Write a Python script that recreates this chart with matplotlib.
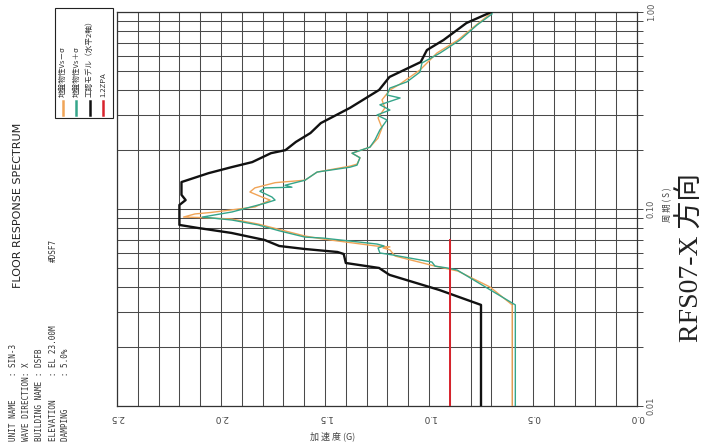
import numpy as np
import matplotlib.pyplot as plt
from matplotlib.patches import Rectangle
from matplotlib.lines import Line2D
from matplotlib.ticker import LogLocator, NullFormatter

plt.rcParams['font.family'] = ['DejaVu Sans', 'Noto Sans CJK JP']

# 工認モデル(水平2軸) : acceleration (G) vs period (s)
black_acc = [0.75, 0.75, 0.95, 1.19, 1.24, 1.40, 1.41, 1.44, 1.60, 1.72, 1.79, 1.95, 2.11, 2.20,
             2.20, 2.17, 2.19, 2.19, 2.06, 1.95, 1.85, 1.76, 1.69, 1.64, 1.57, 1.52, 1.38,
             1.24, 1.19, 1.04, 1.01, 0.93, 0.82, 0.70]
black_per = [0.010, 0.0326, 0.0388, 0.0463, 0.0502, 0.0532, 0.0591, 0.0605, 0.0627, 0.0649, 0.0696,
             0.0756, 0.0801, 0.0830, 0.1048, 0.111, 0.118, 0.137, 0.152, 0.163, 0.173, 0.192,
             0.199, 0.219, 0.243, 0.273, 0.326, 0.402, 0.468, 0.557, 0.641, 0.721, 0.879, 1.00]

# 地盤物性Vs+σ
green_acc = [0.585, 0.585, 0.865, 0.913, 0.971, 0.986, 1.173, 1.236, 1.245, 1.216, 1.250, 1.510,
             1.596, 1.716, 1.822, 1.947, 2.090, 1.947, 1.788, 1.740, 1.755, 1.813, 1.788, 1.659,
             1.692, 1.596, 1.538, 1.380, 1.346, 1.332, 1.370, 1.284, 1.260, 1.236, 1.202, 1.250,
             1.188, 1.236, 1.139, 1.202, 1.188, 1.106, 1.043, 1.034, 0.947, 0.851, 0.769, 0.697,
             0.697]
green_per = [0.010, 0.0326, 0.0490, 0.0502, 0.0513, 0.0538, 0.0584, 0.0598, 0.0634, 0.0649, 0.0664,
             0.0712, 0.0720, 0.0773, 0.0830, 0.0879, 0.0910, 0.0966, 0.107, 0.111, 0.115, 0.123,
             0.128, 0.129, 0.132, 0.140, 0.154, 0.163, 0.167, 0.182, 0.192, 0.206, 0.224, 0.252,
             0.283, 0.300, 0.318, 0.338, 0.366, 0.379, 0.411, 0.442, 0.496, 0.551, 0.619, 0.721,
             0.859, 0.977, 1.00]

# 地盤物性Vs-σ
orange_acc = [0.600, 0.600, 0.707, 0.861, 0.971, 1.163, 1.188, 1.221, 1.188, 1.255, 1.510, 1.596,
              1.822, 1.947, 2.100, 2.180, 2.125, 2.050, 1.837, 1.764, 1.803, 1.861, 1.837, 1.740,
              1.707, 1.596, 1.538, 1.380, 1.346, 1.332, 1.370, 1.284, 1.245, 1.226, 1.245, 1.212,
              1.226, 1.188, 1.139, 1.043, 0.962, 0.861, 0.779, 0.707, 0.707]
orange_per = [0.010, 0.0326, 0.0402, 0.0484, 0.0513, 0.0577, 0.0620, 0.0634, 0.0642, 0.0649, 0.0704,
              0.0729, 0.0839, 0.0889, 0.0905, 0.0910, 0.0944, 0.0960, 0.1024, 0.111, 0.115, 0.122,
              0.128, 0.136, 0.137, 0.140, 0.154, 0.165, 0.169, 0.182, 0.192, 0.206, 0.229, 0.258,
              0.290, 0.326, 0.358, 0.402, 0.431, 0.508, 0.619, 0.721, 0.849, 0.977, 1.00]

# 1.2ZPA
red_acc = [0.90, 0.90]
red_per = [0.010, 0.0697]

acc_ticks = [2.5, 2.0, 1.5, 1.0, 0.5, 0.0]
acc_labels = ['2.5', '2.0', '1.5', '1.0', '0.5', '0.0']
per_ticks = [0.01, 0.1, 1.0]
per_labels = ['0.01', '0.10', '1.00']

legend_labels = ['地盤物性Vs－σ', '地盤物性Vs＋σ', '工認モデル（水平2軸）', '1.2ZPA']
legend_colors = ['#f0a457', '#35a58a', '#111111', '#d8232c']

info_lines = ['UNIT NAME     : SIN-3',
              'WAVE DIRECTION: X',
              'BUILDING NAME : DSFB',
              'ELEVATION     : EL 23.00M',
              'DAMPING       : 5.0%']

W, H = 705, 445


def fx(px):
    return px / W


def fy(py):
    return 1 - py / H


fig = plt.figure(figsize=(7.05, 4.45), dpi=100)
fig.patch.set_facecolor('white')
ax = fig.add_axes([fx(117), fy(406), 520 / W, 394 / H])

ax.set_xlim(2.5, 0.0)
ax.set_yscale('log')
ax.set_ylim(0.01, 1.0)

ax.set_xticks(acc_ticks)
ax.set_xticklabels(acc_labels, rotation=180, fontsize=6.5, color='#444444')
ax.set_xticks(np.arange(0, 2.51, 0.1), minor=True)
ax.set_yticks(per_ticks)
ax.set_yticklabels(per_labels, rotation=90, fontsize=6, color='#555555', va='center')
ax.yaxis.set_minor_locator(LogLocator(base=10, subs=np.arange(2, 10)))
ax.yaxis.set_minor_formatter(NullFormatter())
ax.yaxis.tick_right()
ax.tick_params(axis='x', which='both', length=0, pad=5)
ax.tick_params(axis='y', which='both', direction='out', length=4, width=0.7,
               color='#444444', pad=3, left=False, right=True)

ax.grid(True, which='both', color='#4a4a4a', lw=0.75)
for s in ax.spines.values():
    s.set_color('#333333')
    s.set_linewidth(0.9)

ax.plot(orange_acc, orange_per, color=legend_colors[0], lw=1.0, zorder=3)
ax.plot(green_acc, green_per, color=legend_colors[1], lw=1.0, zorder=4)
ax.plot(black_acc, black_per, color=legend_colors[2], lw=1.7, zorder=5)
ax.plot(red_acc, red_per, color=legend_colors[3], lw=1.4, zorder=6)

# axis titles
fig.text(fx(333), fy(436), '加 速 度 (G)', fontsize=6.5, color='#444444',
         ha='center', va='center', family=['Noto Sans CJK JP', 'DejaVu Sans'])
fig.text(fx(668), fy(205), '周 期 ( S )', fontsize=6, color='#444444', rotation=90,
         ha='center', va='center', family=['Noto Sans CJK JP', 'DejaVu Sans'])
fig.text(fx(692), fy(258), 'RFS07-X 方向', fontsize=20, color='#222222', rotation=90,
         ha='center', va='center', family=['Liberation Serif', 'Noto Sans CJK JP'])

# header block
fig.text(fx(18), fy(205), 'FLOOR RESPONSE SPECTRUM', fontsize=8, color='#222222',
         rotation=90, ha='center', va='center')
for i, line in enumerate(info_lines):
    fig.text(fx(14 + 13 * i), fy(441), line, fontsize=5.5, color='#333333', rotation=90,
             ha='center', va='bottom', family='DejaVu Sans Mono')
fig.text(fx(53), fy(262), '#DSF7', fontsize=5.5, color='#333333', rotation=90,
         ha='center', va='bottom', family='DejaVu Sans Mono')

# legend box
fig.patches.append(Rectangle((fx(55), fy(118)), 58 / W, 110 / H, transform=fig.transFigure,
                             fill=False, edgecolor='#222222', lw=0.8))
for i, (lab, col) in enumerate(zip(legend_labels, legend_colors)):
    xp = 63 + 13.3 * i
    fig.add_artist(Line2D([fx(xp), fx(xp)], [fy(115), fy(101)], color=col, lw=1.8,
                          transform=fig.transFigure))
    fig.text(fx(xp), fy(97), lab, fontsize=5.5, color='#333333', rotation=90,
             ha='center', va='bottom', family=['Noto Sans CJK JP', 'DejaVu Sans'])

fig.savefig('out.png', dpi=100)
